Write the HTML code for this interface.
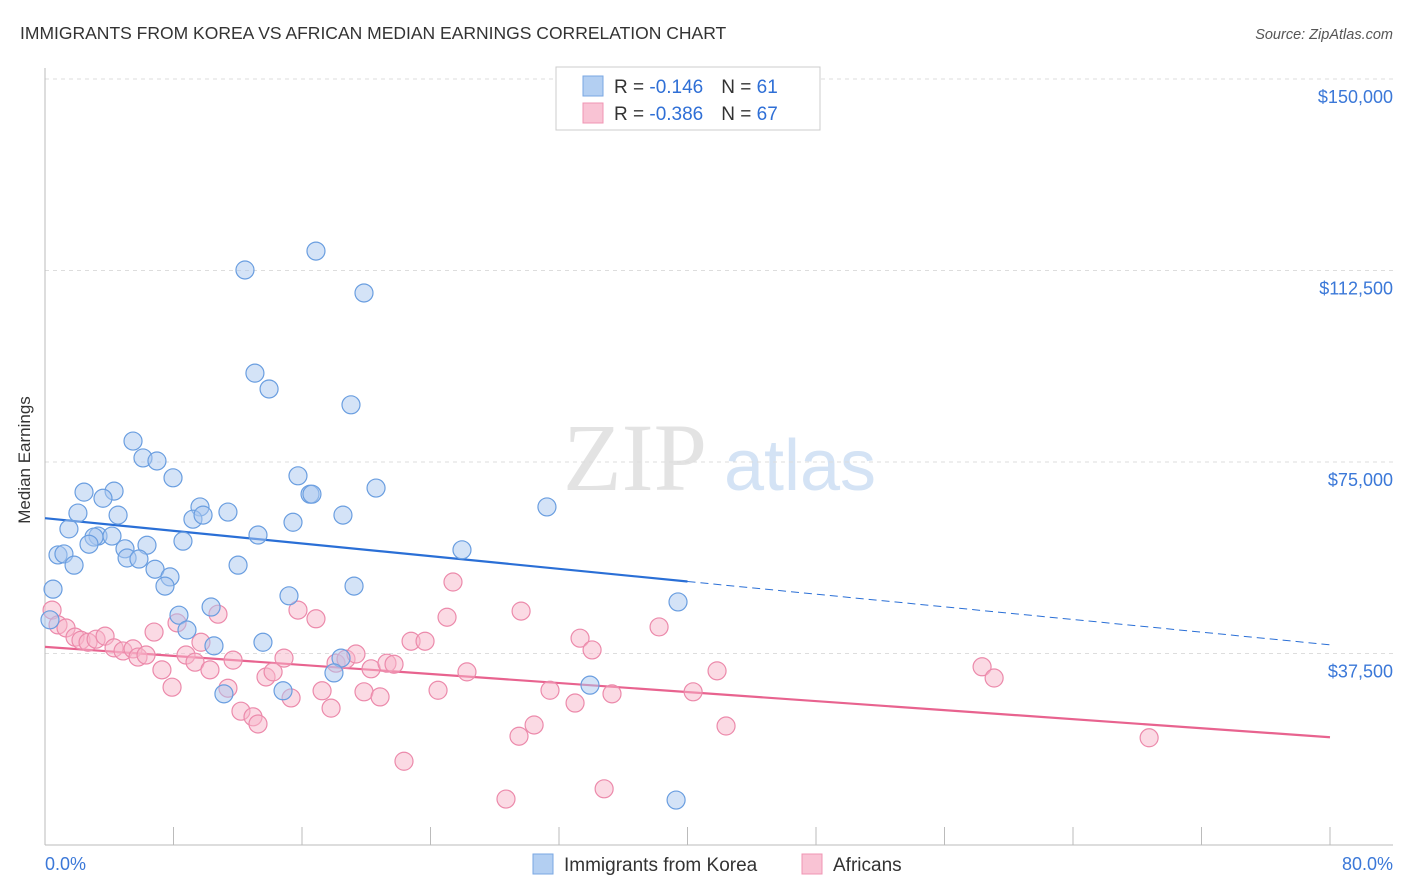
<!DOCTYPE html>
<html><head><meta charset="utf-8"><style>
body{margin:0;background:#fff;font-family:"Liberation Sans",sans-serif;}
svg{display:block}
</style></head><body>
<svg id="chart" width="1406" height="892" xmlns="http://www.w3.org/2000/svg">
<text x="20" y="39" font-size="17.5" fill="#333">IMMIGRANTS FROM KOREA VS AFRICAN MEDIAN EARNINGS CORRELATION CHART</text>
<text x="1393" y="39" font-size="14.5" fill="#555" font-style="italic" text-anchor="end">Source: ZipAtlas.com</text>
<text x="30" y="460" font-size="17" fill="#333" transform="rotate(-90 30 460)" text-anchor="middle">Median Earnings</text>
<g>
<text x="635" y="490" font-size="96" fill="#e3e3e3" font-family="Liberation Serif" text-anchor="middle">ZIP</text>
<text x="800" y="490" font-size="72" fill="#d4e3f5" text-anchor="middle">atlas</text>
</g>
<g id="grid"></g><g id="axes"></g><g id="lines"></g><g id="pts"></g>
<g>
<rect x="556" y="67" width="264" height="63" fill="#fff" stroke="#ccc"/>
<rect x="583" y="76" width="20" height="20" fill="#b3cff2" stroke="#7aa7e3"/>
<rect x="583" y="103" width="20" height="20" fill="#f9c3d4" stroke="#f095b3"/>
<text x="614" y="93" font-size="19" fill="#333">R = <tspan fill="#2f6fd6">-0.146</tspan><tspan dx="18">N = </tspan><tspan fill="#2f6fd6">61</tspan></text>
<text x="614" y="120" font-size="19" fill="#333">R = <tspan fill="#2f6fd6">-0.386</tspan><tspan dx="18">N = </tspan><tspan fill="#2f6fd6">67</tspan></text>
</g>
<g>
<rect x="533" y="854" width="20" height="20" fill="#b3cff2" stroke="#7aa7e3"/>
<text x="564" y="871" font-size="19" fill="#333">Immigrants from Korea</text>
<rect x="802" y="854" width="20" height="20" fill="#f9c3d4" stroke="#f095b3"/>
<text x="833" y="871" font-size="19" fill="#333">Africans</text>
</g>
</svg>
<script>
const yTicks=[37500,75000,112500,150000];
const yTickLabels=["$37,500","$75,000","$112,500","$150,000"];
const xTicks=[0,8,16,24,32,40,48,56,64,72,80];
const koreaX=[12.45,16.87,19.86,13.07,13.95,19.05,5.48,6.10,6.97,7.97,2.43,4.30,3.61,15.75,16.5,16.62,20.61,31.25,2.05,4.55,9.65,11.39,18.55,9.21,9.84,15.44,1.49,13.26,3.30,4.17,3.05,2.74,6.35,8.59,4.98,25.96,0.81,1.18,5.11,5.85,1.81,12.02,6.85,7.78,7.47,19.24,0.50,15.19,10.34,8.34,39.41,8.84,10.52,13.57,18.43,17.99,33.93,11.14,14.82,39.29,0.31];
const koreaY=[112.6,116.3,108.1,92.4,89.3,86.2,79.1,75.8,75.2,71.9,69.1,69.3,67.9,72.3,68.7,68.7,69.9,66.2,65.0,64.6,66.2,65.2,64.6,63.8,64.6,63.2,61.9,60.7,60.5,60.5,60.3,58.9,58.7,59.5,58.0,57.8,56.8,57.0,56.2,56.0,54.8,54.8,54.0,52.5,50.7,50.7,50.1,48.8,46.6,45.0,47.6,42.1,39.0,39.7,36.6,33.7,31.3,29.6,30.2,8.8,44.1];
const afrX=[0.44,0.81,1.31,1.87,2.24,2.68,3.18,3.74,4.30,4.86,5.48,5.79,6.29,6.79,7.28,7.91,8.22,8.78,9.34,9.71,10.27,10.77,11.39,11.71,12.20,12.95,13.26,13.76,14.20,14.88,15.32,15.75,16.87,17.25,17.81,18.12,18.74,19.36,19.86,20.30,20.86,21.29,21.73,22.35,22.79,23.66,24.47,25.03,25.40,26.27,28.70,29.51,29.64,30.45,31.44,33.00,33.31,34.06,34.81,35.30,38.23,40.35,41.84,42.40,58.34,59.09,68.74];
const afrY=[46.0,43.1,42.5,40.7,40.1,39.7,40.3,40.9,38.6,38.0,38.4,36.8,37.2,41.7,34.3,30.9,43.5,37.2,35.8,39.7,34.3,45.2,30.7,36.2,26.2,25.1,23.7,32.9,33.9,36.6,28.8,46.0,44.3,30.2,26.8,35.6,36.4,37.4,30.0,34.5,29.0,35.6,35.4,16.4,39.9,39.9,30.3,44.6,51.5,33.9,9.0,21.3,45.8,23.5,30.3,27.8,40.5,38.2,11.0,29.6,42.7,30.0,34.1,23.3,34.9,32.7,21.0];
const koreaTrend=[64.0,39.2];
const afrTrend=[38.8,21.1];
const NS="http://www.w3.org/2000/svg";
const X=v=>45+v/80*1285, Y=v=>845-v/150000*766;
function mk(t,a,p){const e=document.createElementNS(NS,t);for(const k in a)e.setAttribute(k,a[k]);document.getElementById(p).appendChild(e);return e;}
yTicks.forEach((t,i)=>{
 const l=mk('line',{x1:45,x2:1393,y1:Y(t),y2:Y(t),stroke:'#ddd','stroke-dasharray':'4,4'},'grid');
 
 
 const tx=mk('text',{x:1393,y:Y(t)+24,'font-size':18,fill:'#3b78d8','text-anchor':'end'},'axes');
 tx.textContent=yTickLabels[i];
 
 
});
let a=mk('line',{x1:45,x2:45,y1:68,y2:845,stroke:'#bbb'},'axes');


a=mk('line',{x1:45,x2:1393,y1:845,y2:845,stroke:'#bbb'},'axes');


xTicks.forEach(t=>{const l=mk('line',{x1:X(t),x2:X(t),y1:827,y2:845,stroke:'#bbb'},'axes');
 
 });
let tl=mk('text',{x:45,y:870,'font-size':18,fill:'#3b78d8'},'axes');tl.textContent='0.0%';


tl=mk('text',{x:1393,y:870,'font-size':18,fill:'#3b78d8','text-anchor':'end'},'axes');tl.textContent='80.0%';


function pts(xs,ys,fill,stroke,name){xs.forEach((x,i)=>{const c=mk('circle',{cx:X(x),cy:Y(ys[i]*1000),r:9,fill:fill,'fill-opacity':0.5,stroke:stroke,'stroke-width':1.2},'pts');
 
 });}
pts(afrX,afrY,'#f7b5ca','#ec8aab','africans-point');
pts(koreaX,koreaY,'#a9c8ef','#6a9ee0','korea-point');
const kmid=koreaTrend[0]+(koreaTrend[1]-koreaTrend[0])*0.5;
let L=mk('line',{x1:X(0),y1:Y(koreaTrend[0]*1000),x2:X(40),y2:Y(kmid*1000),stroke:'#2a6fd6','stroke-width':2.2},'lines');


L=mk('line',{x1:X(40),y1:Y(kmid*1000),x2:X(80),y2:Y(koreaTrend[1]*1000),stroke:'#2a6fd6','stroke-width':1,'stroke-dasharray':'8,5'},'lines');


L=mk('line',{x1:X(0),y1:Y(afrTrend[0]*1000),x2:X(80),y2:Y(afrTrend[1]*1000),stroke:'#e8638f','stroke-width':2.2},'lines');


</script>
</body></html>
